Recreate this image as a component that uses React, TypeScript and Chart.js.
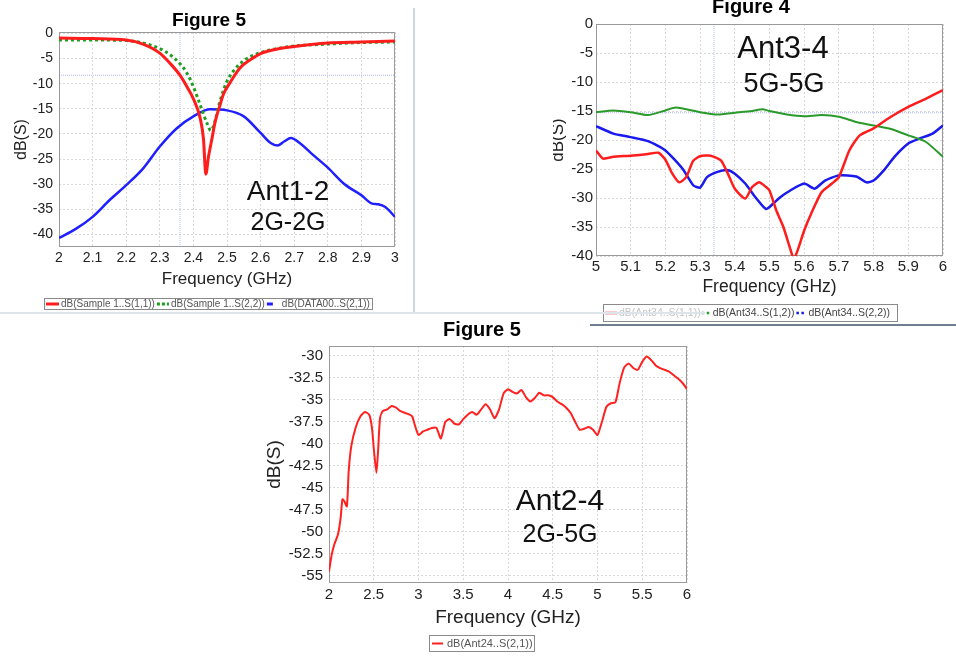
import React, { useEffect, useRef } from "react";
import { Chart, registerables } from "chart.js";
Chart.register(...registerables);

const FONT = 'Arial, "Liberation Sans", Helvetica, sans-serif';

// ---------- Chart 1 (Figure 5, Ant1-2, 2G-2G) ----------
const C1_S11_F = [2.0, 2.1, 2.2, 2.25, 2.3, 2.33, 2.36, 2.38, 2.4, 2.42, 2.43, 2.437, 2.445, 2.455, 2.465, 2.478, 2.49, 2.508, 2.538, 2.57, 2.6, 2.65, 2.7, 2.75, 2.8, 2.9, 3.0];
const C1_S11 = [-0.9, -1.0, -1.3, -2.1, -3.9, -5.9, -8.3, -10.5, -13.0, -16.8, -21.0, -28.0, -24.5, -21.0, -17.5, -14.5, -12.0, -9.9, -6.9, -5.2, -4.0, -3.1, -2.6, -2.2, -1.9, -1.7, -1.5];
const C1_S22_F = [2.0, 2.1, 2.2, 2.25, 2.3, 2.33, 2.36, 2.38, 2.4, 2.42, 2.44, 2.452, 2.465, 2.475, 2.49, 2.5, 2.52, 2.55, 2.6, 2.65, 2.7, 2.8, 2.9, 3.0];
const C1_S22 = [-1.3, -1.3, -1.4, -1.9, -3.0, -4.2, -6.0, -7.8, -10.6, -14.2, -17.8, -19.3, -17.3, -14.5, -11.2, -9.5, -7.4, -5.4, -3.8, -3.0, -2.5, -2.1, -1.8, -1.7];
const C1_S21_F = [2.0, 2.05, 2.1, 2.15, 2.2, 2.25, 2.3, 2.35, 2.4, 2.45, 2.5, 2.55, 2.6, 2.63, 2.65, 2.67, 2.69, 2.72, 2.75, 2.8, 2.85, 2.9, 2.93, 2.95, 2.97, 3.0];
const C1_S21 = [-40.7, -38.9, -36.5, -33.2, -30.2, -26.9, -22.5, -18.9, -16.5, -15.1, -15.3, -16.5, -19.8, -21.8, -22.3, -21.5, -20.8, -22.0, -23.8, -26.7, -30.0, -32.2, -33.8, -34.0, -34.5, -36.5];
const C1_X_TICKS = [2, 2.1, 2.2, 2.3, 2.4, 2.5, 2.6, 2.7, 2.8, 2.9, 3];
const C1_Y_TICKS = [0, -5, -10, -15, -20, -25, -30, -35, -40];
const C1_X_MIN = 2, C1_X_MAX = 3, C1_Y_MIN = -42.5, C1_Y_MAX = 0.3;
const C1_MARK_X = 2.36, C1_MARK_Y = -8.3;
const C1_LABELS = ["dB(Sample 1..S(1,1))", "dB(Sample 1..S(2,2))", "dB(DATA00..S(2,1))"];

// ---------- Chart 2 (Figure 4, Ant3-4, 5G-5G) ----------
const C2_S11_F = [5.0, 5.02, 5.05, 5.1, 5.15, 5.18, 5.2, 5.22, 5.24, 5.26, 5.28, 5.3, 5.33, 5.36, 5.38, 5.4, 5.43, 5.45, 5.47, 5.49, 5.5, 5.52, 5.54, 5.56, 5.57, 5.58, 5.6, 5.62, 5.65, 5.68, 5.7, 5.73, 5.76, 5.8, 5.85, 5.9, 5.95, 6.0];
const C2_S11 = [-21.8, -23.2, -22.9, -22.7, -22.4, -22.2, -23.4, -25.8, -27.3, -26.4, -23.6, -22.8, -22.7, -23.5, -25.8, -28.4, -30.1, -28.1, -27.3, -28.1, -28.7, -32.2, -35.0, -38.8, -40.5, -39.2, -35.6, -32.7, -29.0, -27.5, -26.4, -21.8, -19.2, -18.0, -16.0, -14.3, -12.9, -11.4];
const C2_S12_F = [5.0, 5.05, 5.1, 5.15, 5.2, 5.23, 5.3, 5.35, 5.4, 5.45, 5.48, 5.5, 5.55, 5.6, 5.65, 5.7, 5.75, 5.8, 5.85, 5.9, 5.95, 6.0];
const C2_S12 = [-15.2, -14.9, -15.2, -15.7, -14.9, -14.4, -15.2, -15.6, -15.3, -15.0, -14.7, -15.0, -15.6, -15.9, -15.7, -16.0, -16.9, -17.5, -18.1, -19.2, -20.3, -22.9];
const C2_S22_F = [5.0, 5.05, 5.1, 5.15, 5.2, 5.25, 5.28, 5.3, 5.32, 5.35, 5.38, 5.4, 5.43, 5.46, 5.49, 5.51, 5.53, 5.56, 5.6, 5.63, 5.66, 5.7, 5.75, 5.78, 5.8, 5.83, 5.86, 5.9, 5.93, 5.97, 6.0];
const C2_S22 = [-17.6, -18.9, -19.5, -20.2, -21.8, -25.0, -27.8, -28.2, -26.4, -25.5, -25.2, -25.8, -27.5, -29.9, -31.9, -31.0, -29.9, -28.7, -27.5, -28.4, -27.0, -26.1, -26.3, -27.3, -27.0, -25.2, -22.9, -20.6, -19.8, -18.9, -17.5];
const C2_X_TICKS = [5, 5.1, 5.2, 5.3, 5.4, 5.5, 5.6, 5.7, 5.8, 5.9, 6];
const C2_Y_TICKS = [0, -5, -10, -15, -20, -25, -30, -35, -40];
const C2_X_MIN = 5, C2_X_MAX = 6, C2_Y_MIN = -40, C2_Y_MAX = 0;
const C2_MARK_X = 5.34, C2_MARK_Y = -15.3;
const C2_LABELS = ["dB(Ant34..S(1,1))", "dB(Ant34..S(1,2))", "dB(Ant34..S(2,2))"];

// ---------- Chart 3 (Figure 5, Ant2-4, 2G-5G) ----------
const C3_S21_F = [2.0, 2.03, 2.06, 2.1, 2.13, 2.15, 2.17, 2.2, 2.22, 2.25, 2.3, 2.35, 2.4, 2.45, 2.48, 2.5, 2.53, 2.55, 2.57, 2.6, 2.65, 2.7, 2.75, 2.8, 2.85, 2.9, 2.93, 2.96, 3.0, 3.05, 3.1, 3.15, 3.2, 3.25, 3.3, 3.35, 3.4, 3.45, 3.5, 3.55, 3.6, 3.65, 3.7, 3.75, 3.8, 3.85, 3.9, 3.95, 4.0, 4.05, 4.1, 4.15, 4.2, 4.25, 4.3, 4.35, 4.4, 4.45, 4.5, 4.55, 4.6, 4.65, 4.7, 4.75, 4.8, 4.85, 4.9, 4.95, 5.0, 5.05, 5.1, 5.15, 5.2, 5.25, 5.3, 5.35, 5.4, 5.45, 5.5, 5.55, 5.6, 5.65, 5.7, 5.75, 5.8, 5.85, 5.9, 5.95, 6.0];
const C3_S21 = [-54.5, -52.6, -51.4, -50.3, -48.4, -46.3, -46.5, -47.1, -43.1, -40.2, -38.1, -36.9, -36.4, -36.7, -38.2, -40.5, -43.3, -40.5, -37.1, -36.3, -36.1, -35.7, -35.9, -36.3, -36.5, -36.7, -36.9, -37.9, -39.0, -38.6, -38.4, -38.2, -38.2, -39.4, -37.5, -37.2, -37.7, -37.8, -37.2, -36.7, -36.4, -36.7, -36.1, -35.5, -36.1, -37.1, -36.1, -34.3, -33.8, -34.1, -34.3, -33.9, -34.7, -35.2, -34.8, -34.2, -34.5, -34.5, -34.7, -35.2, -35.5, -35.9, -36.5, -37.5, -38.4, -38.3, -38.1, -38.4, -39.0, -37.5, -35.8, -35.4, -35.3, -33.0, -31.3, -30.9, -31.4, -31.6, -30.7, -30.1, -30.5, -31.1, -31.4, -31.6, -31.8, -32.2, -32.6, -33.1, -33.8];
const C3_X_TICKS = [2, 2.5, 3, 3.5, 4, 4.5, 5, 5.5, 6];
const C3_Y_TICKS = [-30, -32.5, -35, -37.5, -40, -42.5, -45, -47.5, -50, -52.5, -55];
const C3_X_MIN = 2, C3_X_MAX = 6, C3_Y_MIN = -55.8, C3_Y_MAX = -28.9;
const C3_LABELS = ["dB(Ant24..S(2,1))"];

const zip = (xs: number[], ys: number[]) => xs.map((x, i) => ({ x, y: ys[i] }));
const fmt = (v: number) => String(Math.round(v * 100) / 100);

const overlay = {
  id: "overlay",
  beforeDatasetsDraw(chart: any, _a: any, opts: any) {
    const { ctx, chartArea: a } = chart;
    ctx.save();
    ctx.strokeStyle = opts.frame || "#999";
    ctx.lineWidth = 1;
    ctx.strokeRect(Math.round(a.left) + 0.5, Math.round(a.top) + 0.5, Math.round(a.right - a.left) - 1, Math.round(a.bottom - a.top) - 1);
    ctx.restore();
  },
  afterDraw(chart: any, _a: any, opts: any) {
    const ctx = chart.ctx;
    ctx.save();
    const texts = opts.texts || [];
    for (let i = 0; i < texts.length; i++) {
      const t = texts[i];
      ctx.font = t.font;
      ctx.fillStyle = t.color || "#000";
      ctx.textAlign = "center";
      ctx.textBaseline = "alphabetic";
      ctx.fillText(t.text, t.x, t.y);
    }
    const L = opts.legend;
    if (L) {
      ctx.fillStyle = "#fff";
      ctx.fillRect(L.x, L.y, L.w, L.h);
      ctx.strokeStyle = L.border;
      ctx.lineWidth = 1;
      ctx.strokeRect(L.x + 0.5, L.y + 0.5, L.w - 1, L.h - 1);
      ctx.font = `${L.size}px ${FONT}`;
      const cy = L.y + L.h / 2;
      let x = L.x + L.padL;
      const items = L.items;
      for (let i = 0; i < items.length; i++) {
        const it = items[i];
        const ds = chart.data.datasets[it.index];
        ctx.strokeStyle = ds.borderColor;
        ctx.lineWidth = it.lw;
        ctx.setLineDash(it.dash ? [...it.dash] : []);
        ctx.beginPath();
        ctx.moveTo(x, cy);
        ctx.lineTo(x + it.mw, cy);
        ctx.stroke();
        ctx.setLineDash([]);
        x += it.mw + it.gap1;
        ctx.fillStyle = it.textColor || L.color;
        ctx.textAlign = "left";
        ctx.textBaseline = "middle";
        ctx.fillText(ds.label, x, cy + 0.5);
        x += ctx.measureText(ds.label).width + it.gap2;
      }
    }
    ctx.restore();
  },
};

function axis(o: any) {
  return {
    type: "linear",
    min: o.min,
    max: o.max,
    afterBuildTicks: (s: any) => {
      s.ticks = o.ticks.map((value: number) => ({ value }));
    },
    afterFit: (s: any) => {
      if (o.width !== undefined) s.width = o.width;
      if (o.height !== undefined) s.height = o.height;
    },
    ticks: {
      callback: (v: number) => fmt(v),
      color: "#222",
      font: { family: FONT, size: o.tickSize },
      padding: o.tickPad,
      maxRotation: 0,
      autoSkip: false,
    },
    grid: { color: "#d9d9d9", lineWidth: 1, drawTicks: false },
    border: { display: false, dash: [2, 2] },
    title: {
      display: true,
      text: o.title,
      color: "#222",
      font: { family: FONT, size: o.titleSize },
      padding: o.titlePad,
    },
  };
}

function markerSets(mx: number, my: number, xmin: number, xmax: number, ymin: number, ymax: number) {
  const base = { borderColor: "rgba(110,130,255,0.55)", borderWidth: 1, borderDash: [1, 1], pointRadius: 0, tension: 0, label: "" };
  return [
    { ...base, data: [{ x: mx, y: ymax }, { x: mx, y: ymin }] },
    { ...base, data: [{ x: xmin, y: my }, { x: xmax, y: my }] },
  ];
}

const common = {
  animation: false,
  responsive: false,
  events: [],
};

function chart1Config(): any {
  return {
    type: "line",
    data: {
      datasets: [
        { label: C1_LABELS[0], data: zip(C1_S11_F, C1_S11), borderColor: "#ff1c1c", borderWidth: 3, pointRadius: 0, cubicInterpolationMode: "monotone" },
        { label: C1_LABELS[1], data: zip(C1_S22_F, C1_S22), borderColor: "#1f9f1f", borderWidth: 3, borderDash: [3, 3], pointRadius: 0, cubicInterpolationMode: "monotone" },
        { label: C1_LABELS[2], data: zip(C1_S21_F, C1_S21), borderColor: "#1f1fff", borderWidth: 2.5, pointRadius: 0, cubicInterpolationMode: "monotone" },
        ...markerSets(C1_MARK_X, C1_MARK_Y, C1_X_MIN, C1_X_MAX, C1_Y_MIN, C1_Y_MAX),
      ],
    },
    options: {
      ...common,
      layout: { padding: { left: 8, right: 19, top: 32, bottom: 20 } },
      plugins: {
        legend: { display: false },
        tooltip: { enabled: false },
        overlay: {
          frame: "#9a9a9a",
          texts: [
            { text: "Figure 5", x: 209, y: 26, font: `bold 19px ${FONT}` },
            { text: "Ant1-2", x: 288, y: 200, font: `28px ${FONT}`, color: "#111" },
            { text: "2G-2G", x: 288, y: 230, font: `25px ${FONT}`, color: "#111" },
          ],
          legend: {
            x: 44, y: 298, w: 329, h: 12, size: 10, padL: 2, color: "#555", border: "#8a8a8a",
            items: [
              { index: 0, mw: 13, lw: 3, gap1: 2, gap2: 2 },
              { index: 1, mw: 12, lw: 3, dash: [3, 2], gap1: 2, gap2: 2 },
              { index: 2, mw: 6, lw: 3, gap1: 9, gap2: 2 },
            ],
          },
        },
      },
      scales: {
        x: axis({ min: C1_X_MIN, max: C1_X_MAX, ticks: C1_X_TICKS, height: 46, tickSize: 14, tickPad: 3, title: "Frequency (GHz)", titleSize: 17, titlePad: { top: 0, bottom: 3 } }),
        y: axis({ min: C1_Y_MIN, max: C1_Y_MAX, ticks: C1_Y_TICKS, width: 51, tickSize: 14, tickPad: 6, title: "dB(S)", titleSize: 16, titlePad: { top: 4, bottom: 0 } }),
      },
    },
    plugins: [overlay],
  };
}

function chart2Config(): any {
  return {
    type: "line",
    data: {
      datasets: [
        { label: C2_LABELS[0], data: zip(C2_S11_F, C2_S11), borderColor: "#ff1c1c", borderWidth: 2.5, pointRadius: 0, tension: 0.2 },
        { label: C2_LABELS[1], data: zip(C2_S12_F, C2_S12), borderColor: "#2a9a2a", borderWidth: 2, pointRadius: 0, tension: 0.2 },
        { label: C2_LABELS[2], data: zip(C2_S22_F, C2_S22), borderColor: "#1a1aee", borderWidth: 2.5, pointRadius: 0, tension: 0.2 },
        ...markerSets(C2_MARK_X, C2_MARK_Y, C2_X_MIN, C2_X_MAX, C2_Y_MIN, C2_Y_MAX),
      ],
    },
    options: {
      ...common,
      layout: { padding: { left: 0, right: 13, top: 32, bottom: 24 } },
      plugins: {
        legend: { display: false },
        tooltip: { enabled: false },
        overlay: {
          frame: "#9a9a9a",
          texts: [
            { text: "Figure 4", x: 211, y: 21, font: `bold 20px ${FONT}` },
            { text: "Ant3-4", x: 243, y: 66, font: `31px ${FONT}`, color: "#111" },
            { text: "5G-5G", x: 244, y: 100, font: `27px ${FONT}`, color: "#111" },
          ],
          legend: {
            x: 63, y: 312, w: 295, h: 18, size: 10.5, padL: 2, color: "#444", border: "#8a8a8a",
            items: [
              { index: 0, mw: 12, lw: 2.5, gap1: 2, gap2: 1, textColor: "#c4c4c4" },
              { index: 1, mw: 9, lw: 2.5, dash: [2.5, 2.5], gap1: 2, gap2: 2 },
              { index: 2, mw: 10, lw: 2.5, dash: [2.5, 2.5], gap1: 2, gap2: 2 },
            ],
          },
        },
      },
      scales: {
        x: axis({ min: C2_X_MIN, max: C2_X_MAX, ticks: C2_X_TICKS, height: 46, tickSize: 15, tickPad: 2, title: "Frequency (GHz)", titleSize: 17.5, titlePad: { top: 0, bottom: 4.5 } }),
        y: axis({ min: C2_Y_MIN, max: C2_Y_MAX, ticks: C2_Y_TICKS, width: 56, tickSize: 15, tickPad: 3, title: "dB(S)", titleSize: 17, titlePad: { top: 8, bottom: 0 } }),
      },
    },
    plugins: [overlay],
  };
}

function chart3Config(): any {
  return {
    type: "line",
    data: {
      datasets: [
        { label: C3_LABELS[0], data: zip(C3_S21_F, C3_S21), borderColor: "#ff2020", borderWidth: 2, pointRadius: 0, tension: 0.2 },
      ],
    },
    options: {
      ...common,
      layout: { padding: { left: 0, right: 13, top: 31, bottom: 26 } },
      plugins: {
        legend: { display: false },
        tooltip: { enabled: false },
        overlay: {
          frame: "#9a9a9a",
          texts: [
            { text: "Figure 5", x: 222, y: 21, font: `bold 20px ${FONT}` },
            { text: "Ant2-4", x: 300, y: 195, font: `30px ${FONT}`, color: "#111" },
            { text: "2G-5G", x: 300, y: 227, font: `25px ${FONT}`, color: "#111" },
          ],
          legend: {
            x: 169, y: 320, w: 106, h: 17, size: 11, padL: 3, color: "#555", border: "#8a8a8a",
            items: [{ index: 0, mw: 11, lw: 2, gap1: 4, gap2: 2 }],
          },
        },
      },
      scales: {
        x: axis({ min: C3_X_MIN, max: C3_X_MAX, ticks: C3_X_TICKS, height: 48, tickSize: 15, tickPad: 3, title: "Frequency (GHz)", titleSize: 19, titlePad: { top: 0, bottom: 2 } }),
        y: axis({ min: C3_Y_MIN, max: C3_Y_MAX, ticks: C3_Y_TICKS, width: 69, tickSize: 15, tickPad: 6, title: "dB(S)", titleSize: 19, titlePad: { top: 3.6, bottom: 0 } }),
      },
    },
    plugins: [overlay],
  };
}

function ChartCanvas(props: { cfg: () => any; left: number; top: number; width: number; height: number }) {
  const ref = useRef<HTMLCanvasElement>(null);
  useEffect(() => {
    const c = new Chart(ref.current as HTMLCanvasElement, props.cfg());
    return () => c.destroy();
  }, []);
  return (
    <canvas
      ref={ref}
      width={props.width}
      height={props.height}
      style={{ position: "absolute", left: props.left, top: props.top, width: props.width, height: props.height }}
    />
  );
}

export default function App() {
  return (
    <div style={{ position: "absolute", left: 0, top: 0, width: 956, height: 657, overflow: "hidden", background: "#fff" }}>
      <ChartCanvas cfg={chart1Config} left={0} top={0} width={414} height={313} />
      <div style={{ position: "absolute", left: 553, top: 0, width: 403, height: 326, overflow: "hidden" }}>
        <ChartCanvas cfg={chart2Config} left={-13} top={-8} width={416} height={334} />
      </div>
      <ChartCanvas cfg={chart3Config} left={260} top={315} width={440} height={342} />
      <div style={{ position: "absolute", left: 413, top: 8, width: 2, height: 305, background: "#cdd6e2" }} />
      <div style={{ position: "absolute", left: 0, top: 312, width: 705, height: 2, background: "#dfe4ea" }} />
      <div style={{ position: "absolute", left: 590, top: 324, width: 366, height: 2, background: "#6f7f8f" }} />
    </div>
  );
}
